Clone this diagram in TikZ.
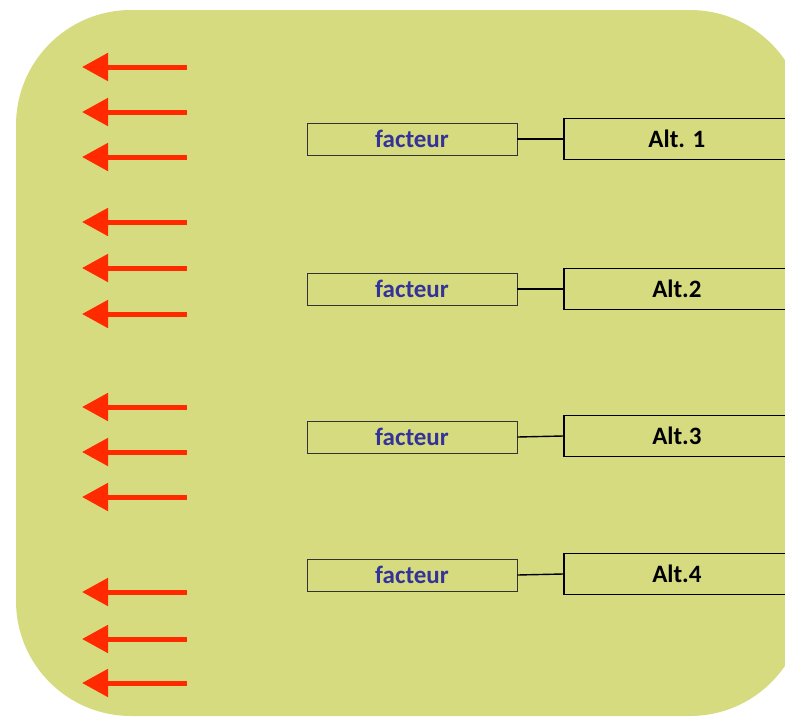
\documentclass[tikz,border=0pt]{standalone}
\usepackage{fontspec}
\setmainfont{Carlito}
\usetikzlibrary{arrows.meta}
\definecolor{bgcol}{RGB}{215,219,127}
\definecolor{arrred}{RGB}{255,42,0}
\definecolor{factblue}{RGB}{51,51,153}
\tikzset{
  redarrow/.style={draw=arrred, line width=5pt, -{Triangle[length=26pt,width=27pt]}},
  factbox/.style={draw=black!80, line width=0.9pt, minimum width=210pt, minimum height=32pt, inner sep=0pt, font=\fontsize{25}{30}\selectfont\bfseries, text=factblue},
  altbox/.style={draw=black, line width=1.8pt, minimum width=226pt, minimum height=41pt, inner sep=0pt, font=\fontsize{25}{30}\selectfont\bfseries, text=black, anchor=west},
  link/.style={draw=black, line width=1.4pt}
}
\begin{document}
\begin{tikzpicture}[x=1pt,y=-1pt]
\useasboundingbox (0,0) rectangle (785,718);
\begin{scope}
\clip (0,0) rectangle (785,718);
\fill[bgcol, rounded corners=115pt] (16,10) rectangle (805,716);
% arrows
\foreach \yy [count=\i] in {67,112,157,222,268,314,407,452,497,592,639,683}{
  \coordinate (s\i) at (187,\yy);
  \coordinate (e\i) at (82,\yy);
  \draw[redarrow] (s\i) -- (e\i);
}
% boxes
\node[factbox] (f1) at (412,139) {facteur};
\node[factbox] (f2) at (412,289) {facteur};
\node[factbox] (f3) at (412,437) {facteur};
\node[factbox] (f4) at (412,575) {facteur};
\node[altbox] (a1) at (563,139) {Alt. 1};
\node[altbox] (a2) at (563,289) {Alt.2};
\node[altbox] (a3) at (563,436) {Alt.3};
\node[altbox] (a4) at (563,574) {Alt.4};
\draw[link] (f1.east) -- (a1.west);
\draw[link] (f2.east) -- (a2.west);
\draw[link] (f3.east) -- (a3.west);
\draw[link] (f4.east) -- (a4.west);
\end{scope}
\end{tikzpicture}
\end{document}
